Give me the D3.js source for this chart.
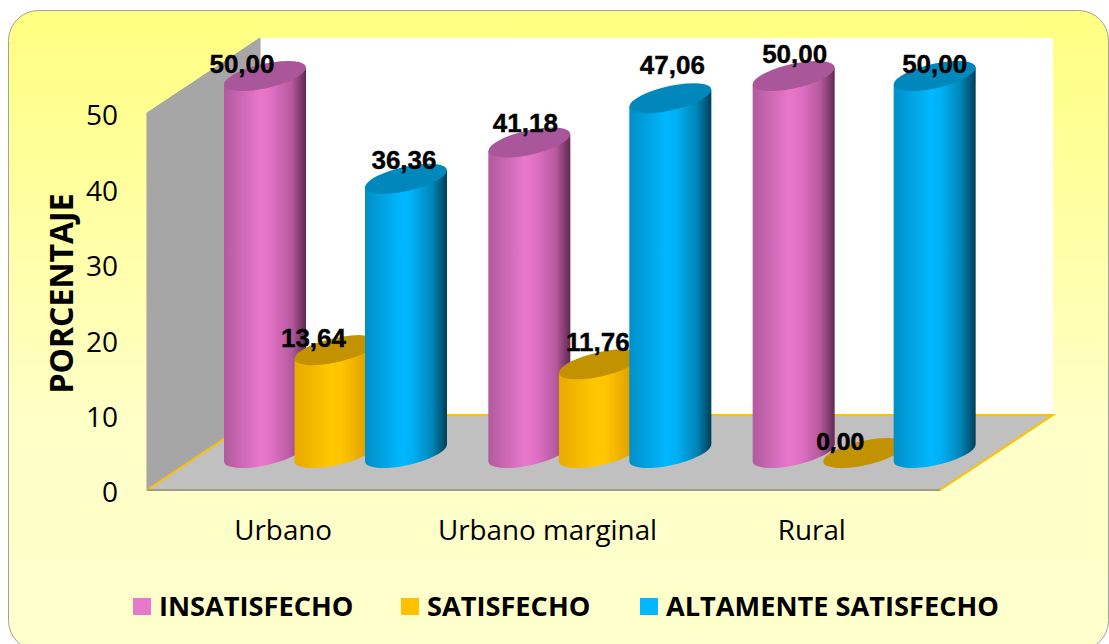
<!DOCTYPE html>
<meta charset="utf-8">
<style>
body { margin: 0; background: #fff; }
text { fill: #000; }
.tick text { font-family: "Open Sans", sans-serif; font-size: 28px; }
.cat .tick text { font-size: 27.8px; }
.title { font-family: "Open Sans", sans-serif; font-weight: 700; font-size: 32px; }
.legend text { font-family: "Open Sans", sans-serif; font-weight: 700; font-size: 27.2px; }
.value { font-family: "Liberation Sans", sans-serif; font-weight: 700; font-size: 26px; text-anchor: middle; stroke: #000; stroke-width: 0.4px; }
</style>
<body>
<script src="https://d3js.org/d3.v7.min.js"></script>
<script>

// data
var categories = ["Urbano", "Urbano marginal", "Rural"];
var seriesNames = ["INSATISFECHO", "SATISFECHO", "ALTAMENTE SATISFECHO"];
var insatisfecho = [50.00, 41.18, 50.00];
var satisfecho = [13.64, 11.76, 0.00];
var altamente = [36.36, 47.06, 50.00];
var yTicks = [0, 10, 20, 30, 40, 50];

// hand placed label nudges, one per bar [dx, dy]
var labelNudge = [
  [[-23, -3], [-4, -11], [1, -13]],
  [[-22, -3], [-2, -13], [-24, -3]],
  [[-2, -10], [2, -24], [0, -3]]
];

var colors = [
  {stops: ["#b25a9f", "#e878cc", "#e070c4", "#b85a9f", "#5f2a52"], top: "#a9579a", key: "#e878cc"},
  {stops: ["#e8aa00", "#ffc800", "#ffc400", "#e6a800", "#c79200"], top: "#c29200", key: "#ffc000"},
  {stops: ["#008fc6", "#00b8ff", "#00b0f4", "#0085b6", "#003f58"], top: "#0087bb", key: "#00b8ff"}
];
var stopAt = ["0%", "45%", "58%", "82%", "100%"];

var width = 1109, height = 644;
var depthX = 113, depthY = 75;      // floor depth of the 3d box
var rx = 41, ry = 12.4, skew = -8.5 / 41;

var svg = d3.select("body").append("svg")
    .attr("width", width)
    .attr("height", height)
    .style("display", "block");

var y = d3.scaleLinear().domain([0, 50]).range([490, 113]);
var x0 = d3.scaleBand().domain(categories).range([151, 944]);
var x1 = d3.scaleBand().domain(seriesNames).range([73, 284.5]);

var defs = svg.append("defs");
var bg = defs.append("linearGradient").attr("id", "bg")
    .attr("x1", 0).attr("y1", 0).attr("x2", 0).attr("y2", 1);
bg.append("stop").attr("offset", "0%").attr("stop-color", "#ffff80");
bg.append("stop").attr("offset", "65%").attr("stop-color", "#ffffc8");
bg.append("stop").attr("offset", "100%").attr("stop-color", "#ffffcc");

colors.forEach(function(c, i) {
  var g = defs.append("linearGradient").attr("id", "cyl" + i);
  c.stops.forEach(function(col, k) {
    g.append("stop").attr("offset", stopAt[k]).attr("stop-color", col);
  });
});

// background panel
svg.append("rect")
    .attr("x", 8.5).attr("y", 10.5)
    .attr("width", 1100).attr("height", 640)
    .attr("rx", 30)
    .attr("fill", "url(#bg)")
    .attr("stroke", "#a0a0a0");

// 3d box: back wall, left wall, floor
var x00 = 147, x01 = 940, yTop = y(50), yBot = y(0);
svg.append("rect")
    .attr("x", x00 + depthX).attr("y", yTop - depthY)
    .attr("width", x01 - x00).attr("height", yBot - yTop)
    .attr("fill", "#fff");
svg.append("polygon")
    .attr("points", [[x00, yTop], [x00 + depthX, yTop - depthY], [x00 + depthX, yBot - depthY], [x00, yBot]].join(" "))
    .attr("fill", "#a6a6a6")
    .attr("stroke", "#a0a0a0");
svg.append("polygon")
    .attr("points", [[x00, yBot], [x00 + depthX, yBot - depthY], [x01 + depthX, yBot - depthY], [x01, yBot]].join(" "))
    .attr("fill", "#c0c0c0");
svg.append("polyline")
    .attr("points", [[x00, yBot], [x00 + depthX, yBot - depthY], [x01 + depthX, yBot - depthY], [x01, yBot]].join(" "))
    .attr("fill", "none")
    .attr("stroke", "#ffc000")
    .attr("stroke-width", 2);
svg.append("line")
    .attr("x1", x00).attr("x2", x01).attr("y1", yBot).attr("y2", yBot)
    .attr("stroke", "#a09a80")
    .attr("stroke-width", 2);

// axes
var yAxis = svg.append("g")
    .attr("transform", "translate(147,3)")
    .call(d3.axisLeft(y).tickValues(yTicks).tickSize(0).tickPadding(29));
yAxis.select(".domain").remove();

var catAxis = svg.append("g")
    .attr("class", "cat")
    .attr("transform", "translate(0,518)")
    .call(d3.axisBottom(x0).tickSize(0).tickPadding(0));
catAxis.select(".domain").remove();
catAxis.selectAll("text").attr("dy", "0.8em");

svg.append("text")
    .attr("class", "title")
    .attr("transform", "translate(73,293.5) rotate(-90)")
    .attr("text-anchor", "middle")
    .text("PORCENTAJE");

// cylinders, sheared so the ellipses tilt like the original
var values = [insatisfecho, satisfecho, altamente];
var shift = depthY / 2 - 0.5;    // bars stand in the middle of the floor

categories.forEach(function(cat, c) {
  seriesNames.forEach(function(name, s) {
    var v = values[s][c];
    var cx = x0(cat) + x1(name) + rx;
    var top = y(v) - shift, bot = y(0) - shift;
    var g = svg.append("g")
        .attr("transform", "matrix(1," + skew + ",0,1," + cx + "," + 0 + ")");
    if (v > 0) {
      g.append("path")
          .attr("d", "M" + (-rx) + "," + top + "L" + (-rx) + "," + bot +
                     "A" + rx + "," + ry + " 0 0 0 " + rx + "," + bot +
                     "L" + rx + "," + top + "Z")
          .attr("fill", "url(#cyl" + s + ")");
    }
    g.append("ellipse")
        .attr("cx", 0).attr("cy", top)
        .attr("rx", rx).attr("ry", ry)
        .attr("fill", colors[s].top);
  });
});

// value labels go on top of every bar
categories.forEach(function(cat, c) {
  seriesNames.forEach(function(name, s) {
    var v = values[s][c];
    var n = labelNudge[s][c];
    svg.append("text")
        .attr("class", "value")
        .attr("x", x0(cat) + x1(name) + rx + n[0])
        .attr("y", y(v) - shift + n[1])
        .style("font-family", v == 0 ? '"Open Sans", sans-serif' : null)
        .style("font-size", v == 0 ? "24px" : null)
        .text(d3.format(".2f")(v).replace(".", ","));
  });
});

// legend
var legendX = [133, 401, 640];
var legend = svg.append("g").attr("class", "legend");
seriesNames.forEach(function(name, i) {
  legend.append("rect")
      .attr("x", legendX[i]).attr("y", 598)
      .attr("width", 18).attr("height", 17)
      .attr("fill", colors[i].key);
  legend.append("text")
      .attr("x", legendX[i] + 26).attr("y", 616)
      .text(name);
});

</script>
</body>
